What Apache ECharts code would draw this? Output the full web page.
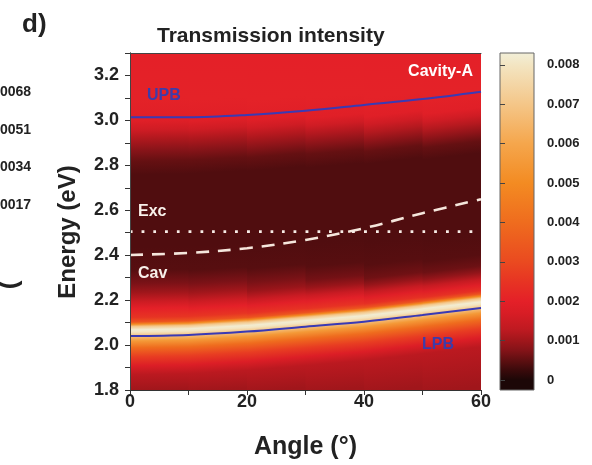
<!DOCTYPE html>
<html>
<head>
<meta charset="utf-8">
<script src="https://cdn.jsdelivr.net/npm/echarts@6.0.0/dist/echarts.min.js"></script>
<style>
  html, body { margin: 0; padding: 0; background: #fff; }
  #chart { width: 592px; height: 465px; }
</style>
</head>
<body>
<div id="chart"></div>
<script>
// ---- data ----
const angles = [0, 10, 20, 30, 40, 50, 60];
const upb = [3.014, 3.014, 3.024, 3.043, 3.069, 3.095, 3.128];
const lpb = [2.040, 2.045, 2.060, 2.082, 2.104, 2.134, 2.165];
const cav = [2.401, 2.410, 2.431, 2.468, 2.520, 2.587, 2.649];
const exc = [2.505, 2.505, 2.505, 2.505, 2.505, 2.505, 2.505];

// transmission (x1e-3) vs energy, one profile per 10 deg angle slice
const sliceRanges = [[0, 10], [10, 20], [20, 30], [30, 40], [40, 50], [50, 60]];
const profile05 = [[1.80,1.0],[1.87,1.25],[1.91,1.8],[1.95,2.7],[1.99,4.0],[2.02,5.5],[2.045,7.0],[2.06,8.0],[2.07,8.2],[2.085,7.0],[2.095,5.0],[2.105,3.3],[2.125,2.5],[2.165,2.0],[2.195,1.5],[2.235,1.0],[2.275,0.7],[2.335,0.45],[2.44,0.4],[2.76,0.4],[2.82,0.55],[2.87,0.8],[2.92,1.15],[2.96,1.55],[3.00,1.9],[3.10,2.05],[3.30,2.0]];
const profile15 = [[1.80,1.0],[1.88,1.25],[1.92,1.8],[1.96,2.7],[2.00,4.0],[2.03,5.5],[2.055,7.0],[2.07,8.0],[2.08,8.2],[2.095,7.0],[2.105,5.0],[2.115,3.3],[2.135,2.5],[2.17,2.0],[2.20,1.5],[2.24,1.0],[2.28,0.7],[2.34,0.45],[2.45,0.4],[2.77,0.4],[2.83,0.55],[2.878,0.8],[2.927,1.15],[2.966,1.55],[3.004,1.9],[3.10,2.05],[3.30,2.0]];
const profile25 = [[1.80,1.0],[1.898,1.25],[1.938,1.8],[1.978,2.7],[2.018,4.0],[2.048,5.5],[2.073,7.0],[2.088,8.0],[2.098,8.2],[2.113,7.0],[2.123,5.0],[2.133,3.3],[2.152,2.45],[2.185,1.95],[2.213,1.45],[2.25,0.95],[2.29,0.68],[2.35,0.45],[2.46,0.4],[2.785,0.4],[2.845,0.55],[2.89,0.82],[2.937,1.17],[2.975,1.55],[3.012,1.9],[3.10,2.05],[3.30,2.0]];
const profile35 = [[1.80,1.0],[1.92,1.25],[1.96,1.8],[2.00,2.7],[2.04,4.0],[2.07,5.5],[2.095,7.0],[2.11,8.0],[2.12,8.2],[2.135,7.0],[2.145,5.0],[2.155,3.3],[2.173,2.45],[2.205,1.95],[2.232,1.45],[2.265,0.95],[2.30,0.65],[2.36,0.45],[2.47,0.4],[2.80,0.4],[2.86,0.55],[2.905,0.83],[2.95,1.18],[2.985,1.55],[3.02,1.9],[3.11,2.05],[3.30,2.0]];
const profile45 = [[1.80,1.0],[1.946,1.25],[1.986,1.8],[2.026,2.7],[2.066,4.0],[2.096,5.5],[2.121,7.0],[2.136,8.0],[2.146,8.2],[2.161,7.0],[2.171,5.0],[2.181,3.3],[2.198,2.4],[2.225,1.9],[2.25,1.4],[2.28,0.92],[2.31,0.62],[2.37,0.45],[2.48,0.4],[2.82,0.4],[2.875,0.55],[2.918,0.84],[2.96,1.19],[2.995,1.55],[3.03,1.9],[3.115,2.05],[3.30,2.0]];
const profile55 = [[1.80,1.0],[1.977,1.25],[2.017,1.8],[2.057,2.7],[2.097,4.0],[2.127,5.5],[2.152,7.0],[2.167,8.0],[2.177,8.2],[2.192,7.0],[2.202,5.0],[2.212,3.3],[2.227,2.4],[2.252,1.9],[2.277,1.4],[2.307,0.9],[2.337,0.6],[2.387,0.45],[2.49,0.4],[2.84,0.4],[2.893,0.55],[2.935,0.85],[2.975,1.2],[3.008,1.55],[3.042,1.9],[3.12,2.05],[3.30,2.0]];
const profiles = [profile05, profile15, profile25, profile35, profile45, profile55];

// colour scale (x1e-3)
const cmapValues = [0, 0.25, 0.5, 0.75, 1.0, 1.3, 1.7, 2.0, 2.5, 3.0, 4.0, 5.0, 6.0, 7.0, 8.0, 8.3];
const cmapColors = ['#1c0707', '#3a0a0b', '#5e0f11', '#831318', '#a0161b', '#c01a21', '#d81d25', '#e42028',
                    '#e73423', '#ea4a20', '#ef6c1e', '#f38b22', '#f5a64c', '#f4c688', '#f3e5c2', '#f2efd8'];

// ticks
const xLabelValues = [0, 20, 40, 60];
const xTickValues = [0, 10, 20, 30, 40, 50, 60];
const yLabelValues = [1.8, 2.0, 2.2, 2.4, 2.6, 2.8, 3.0, 3.2];
const yTickValues = [1.8, 1.9, 2.0, 2.1, 2.2, 2.3, 2.4, 2.5, 2.6, 2.7, 2.8, 2.9, 3.0, 3.1, 3.2, 3.3];
const cbTickValues = [0, 0.001, 0.002, 0.003, 0.004, 0.005, 0.006, 0.007, 0.008];

const E_MIN = 1.8, E_MAX = 3.3;
const CB_MIN = -0.00025, CB_MAX = 0.0083;
const FONT = '"Liberation Sans", Arial, sans-serif';
const INK = '#222';

const colorOf = (v) => {
    if (v <= cmapValues[0]) return cmapColors[0];
    for (let k = 0; k < cmapValues.length - 1; k++) {
        if (v <= cmapValues[k + 1]) {
            const t = (v - cmapValues[k]) / (cmapValues[k + 1] - cmapValues[k]);
            return echarts.color.lerp(t, [cmapColors[k], cmapColors[k + 1]]);
        }
    }
    return cmapColors[cmapColors.length - 1];
};

// each angle slice: vertical profile as gradient, tilted along the LPB slope
const renderHeat = (params, api) => {
    const a0 = api.value(0), a1 = api.value(1), i = api.value(2);
    const tl = api.coord([a0, E_MAX]);
    const br = api.coord([a1, E_MIN]);
    const dx = br[0] - tl[0];
    const H = br[1] - tl[1];
    const j0 = angles.indexOf(a0), j1 = angles.indexOf(a1);
    const dy = api.coord([a1, lpb[j1]])[1] - api.coord([a0, lpb[j0]])[1];
    const xm = tl[0] + dx / 2;
    const k = H * dx / (dx * dx + dy * dy);
    const stops = profiles[i]
        .map(([e, v]) => ({ offset: (E_MAX - e) / (E_MAX - E_MIN), color: colorOf(v) }))
        .reverse();
    return {
        type: 'rect',
        shape: { x: tl[0], y: tl[1], width: dx + (i < profiles.length - 1 ? 0.8 : 0), height: H },
        style: { fill: new echarts.graphic.LinearGradient(xm, tl[1], xm - dy * k, tl[1] + dx * k, stops, true) }
    };
};

const renderColorbar = (params, api) => {
    const tl = api.coord([0, CB_MAX]);
    const br = api.coord([1, CB_MIN]);
    const stops = cmapValues
        .map((v, k) => ({ offset: (CB_MAX - v * 1e-3) / (CB_MAX - CB_MIN), color: cmapColors[k] }))
        .concat([{ offset: 1, color: cmapColors[0] }])
        .filter(s => s.offset >= 0 && s.offset <= 1)
        .sort((a, b) => a.offset - b.offset);
    const shape = { x: tl[0], y: tl[1], width: br[0] - tl[0], height: br[1] - tl[1] };
    return {
        type: 'group',
        children: [
            { type: 'rect', shape, style: { fill: new echarts.graphic.LinearGradient(0, 0, 0, 1, stops) } },
            { type: 'rect', shape, style: { fill: 'none', stroke: '#666', lineWidth: 1 } }
        ]
    };
};

const lineSeries = (name, ys, lineStyle) => ({
    name, type: 'line', xAxisIndex: 0, yAxisIndex: 0,
    data: angles.map((a, i) => [a, ys[i]]),
    smooth: 0.35, symbol: 'none', silent: true, z: 5, lineStyle
});

const labelText = (text, x, y, fill, align) => ({
    type: 'text', x, y, z: 20,
    style: { text, fill, align: align || 'left', verticalAlign: 'middle', font: 'bold 16px ' + FONT }
});

const chart = echarts.init(document.getElementById('chart'));

chart.setOption({
    animation: false,
    textStyle: { fontFamily: FONT },
    title: {
        text: 'Transmission intensity', left: 152, top: 21,
        textStyle: { fontSize: 21, fontWeight: 'bold', color: INK, fontFamily: FONT }
    },
    grid: [
        { left: 130, top: 53, width: 351, height: 337, outerBoundsMode: 'none' },
        { left: 500, top: 53, width: 34, height: 337, outerBoundsMode: 'none' }
    ],
    xAxis: [
        {
            gridIndex: 0, type: 'value', min: 0, max: 60, z: 10,
            name: 'Angle (°)', nameLocation: 'middle', nameGap: 45,
            nameTextStyle: { fontSize: 25, fontWeight: 'bold', color: INK, fontFamily: FONT },
            axisLine: { lineStyle: { color: '#333', width: 1 } },
            axisTick: { customValues: xTickValues, length: 5, lineStyle: { color: '#333' } },
            axisLabel: { customValues: xLabelValues, fontSize: 18, fontWeight: 'bold', color: INK, margin: 3 },
            splitLine: { show: false }
        },
        {
            gridIndex: 0, type: 'value', min: 0, max: 60, position: 'top', z: 10,
            axisLine: { show: true, lineStyle: { color: '#444' } },
            axisTick: { show: false }, axisLabel: { show: false }, splitLine: { show: false }
        },
        { gridIndex: 1, type: 'value', min: 0, max: 1, show: false }
    ],
    yAxis: [
        {
            gridIndex: 0, type: 'value', min: E_MIN, max: E_MAX, z: 10,
            axisLine: { show: true, lineStyle: { color: '#333', width: 1 } },
            axisTick: { show: true, customValues: yTickValues, length: 5, lineStyle: { color: '#333' } },
            axisLabel: {
                customValues: yLabelValues, fontSize: 18, fontWeight: 'bold', color: INK, margin: 11,
                formatter: v => v.toFixed(1)
            },
            splitLine: { show: false }
        },
        {
            gridIndex: 0, type: 'value', min: E_MIN, max: E_MAX, position: 'right', z: 10,
            axisLine: { show: true, lineStyle: { color: '#444' } },
            axisTick: { show: false }, axisLabel: { show: false }, splitLine: { show: false }
        },
        {
            gridIndex: 1, type: 'value', min: CB_MIN, max: CB_MAX, position: 'right', z: 10,
            axisLine: { show: false },
            axisTick: { show: true, customValues: cbTickValues, length: 5, lineStyle: { color: '#444' } },
            axisLabel: {
                customValues: cbTickValues, fontSize: 13, fontWeight: 'bold', color: INK, margin: 13,
                formatter: v => (v === 0 ? '0' : v.toFixed(3))
            },
            splitLine: { show: false }
        }
    ],
    series: [
        {
            type: 'custom', xAxisIndex: 0, yAxisIndex: 0, z: 1, silent: true,
            data: sliceRanges.map((r, i) => [r[0], r[1], i]),
            renderItem: renderHeat
        },
        lineSeries('UPB', upb, { color: '#3a3ab4', width: 2 }),
        lineSeries('LPB', lpb, { color: '#3a3ab4', width: 2 }),
        lineSeries('Cav', cav, { color: '#f5e6dc', width: 2.6, type: [13, 9] }),
        lineSeries('Exc', exc, { color: '#f7ece6', width: 2.8, type: [2.8, 8.9] }),
        {
            type: 'custom', xAxisIndex: 2, yAxisIndex: 2, z: 1, silent: true,
            data: [[0, 1]],
            renderItem: renderColorbar
        }
    ],
    graphic: [
        { type: 'text', x: 22, y: 25, style: { text: 'd)', fill: INK, verticalAlign: 'middle', font: 'bold 26px ' + FONT } },
        { type: 'text', x: 68, y: 232, rotation: Math.PI / 2, style: { text: 'Energy (eV)', fill: INK, align: 'center', verticalAlign: 'middle', font: 'bold 24px ' + FONT } },
        { type: 'text', x: 0, y: 92, style: { text: '0068', fill: INK, verticalAlign: 'middle', font: 'bold 14px ' + FONT } },
        { type: 'text', x: 0, y: 130, style: { text: '0051', fill: INK, verticalAlign: 'middle', font: 'bold 14px ' + FONT } },
        { type: 'text', x: 0, y: 167, style: { text: '0034', fill: INK, verticalAlign: 'middle', font: 'bold 14px ' + FONT } },
        { type: 'text', x: 0, y: 205, style: { text: '0017', fill: INK, verticalAlign: 'middle', font: 'bold 14px ' + FONT } },
        { type: 'text', x: 10, y: 285, rotation: Math.PI / 2, style: { text: '(', fill: INK, align: 'center', verticalAlign: 'middle', font: 'bold 26px ' + FONT } },
        labelText('UPB', 147, 96, '#3c3cab'),
        labelText('Cavity-A', 473, 72, '#ffffff', 'right'),
        labelText('Exc', 138, 212, '#f8f0ea'),
        labelText('Cav', 138, 274, '#f8f0ea'),
        labelText('LPB', 422, 345, '#3c3cab')
    ]
});
</script>
</body>
</html>
